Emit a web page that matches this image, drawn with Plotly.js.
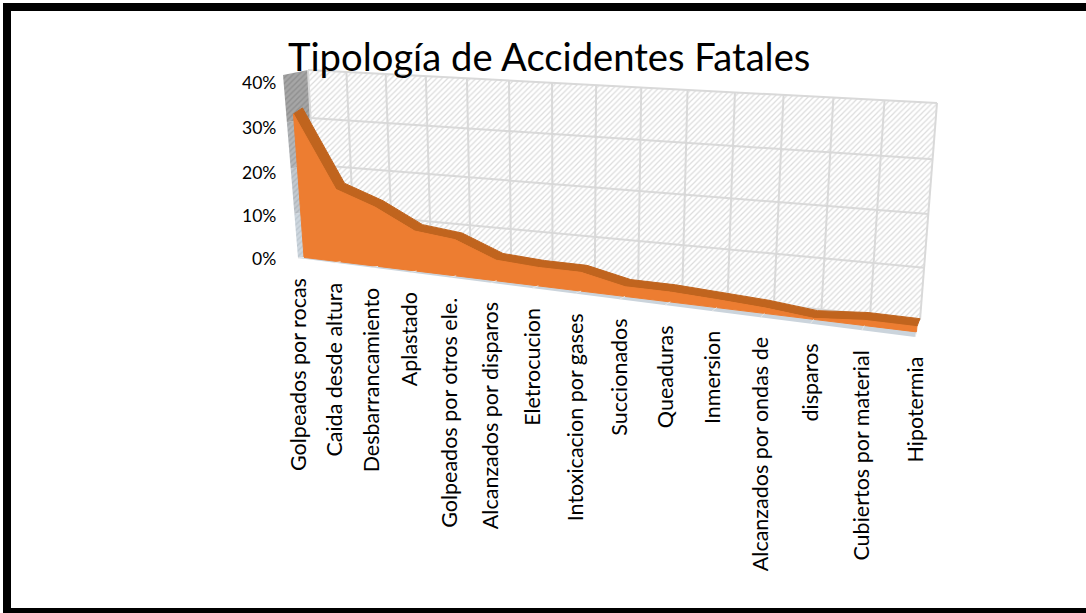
<!DOCTYPE html>
<html><head><meta charset="utf-8">
<script src="https://cdn.plot.ly/plotly-3.0.1.min.js"></script>
<style>html,body{margin:0;padding:0;background:#fff}#c{width:1086px;height:613px}</style></head>
<body><div id="c"></div>
<script>
const categories = ["Golpeados por rocas","Caida desde altura","Desbarrancamiento","Aplastado","Golpeados por otros ele.","Alcanzados por disparos","Eletrocucion","Intoxicacion por gases","Succionados","Queaduras","Inmersion","Alcanzados por ondas de","disparos","Cubiertos por material","Hipotermia"];
const values = [31.5,16,13,8.7,7.8,4.4,3.9,3.9,2,2,1.6,1.1,0.2,1,1];
const yTicks = [0,10,20,30,40];
const yTickLabels = ["0%","10%","20%","30%","40%"];
const titleText = "Tipología de Accidentes Fatales";

// Perspective of the 3-D box: corners of the front and back planes, [x,y] for (category 0/last, 0%/40%)
const FRONT = {bl:[298,258], br:[915,337], tl:[283,75], tr:[932,115]};
const BACK  = {bl:[318,256], br:[920,320], tl:[308,70], tr:[937,103]};
const AREA_D0 = 0.3;
// Screen offset of the ribbon's back edge from its front edge, at the first and last category
const RIBBON = {first:[9,-6], last:[3,-8]};

function homography(q){ // unit square -> quad (u right, v up)
  const [x0,y0]=q.bl,[x1,y1]=q.br,[x2,y2]=q.tr,[x3,y3]=q.tl;
  const dx1=x1-x2,dx2=x3-x2,dx3=x0-x1+x2-x3,dy1=y1-y2,dy2=y3-y2,dy3=y0-y1+y2-y3;
  const det=dx1*dy2-dx2*dy1;
  const g=(dx3*dy2-dx2*dy3)/det,h=(dx1*dy3-dx3*dy1)/det;
  const a=x1-x0+g*x1,b=x3-x0+h*x3,d=y1-y0+g*y1,e=y3-y0+h*y3;
  return (u,v)=>{const w=g*u+h*v+1;return [(a*u+b*v+x0)/w,(d*u+e*v+y0)/w];};
}
const Hf=homography(FRONT),Hb=homography(BACK);
const n=categories.length;
function P(i,pct,depth){
  const u=i/(n-1),v=pct/40,f=Hf(u,v),b=Hb(u,v);
  return [f[0]+(b[0]-f[0])*depth,f[1]+(b[1]-f[1])*depth];
}
function poly(pts,style){
  return Object.assign({x:pts.map(p=>p[0]),y:pts.map(p=>p[1]),mode:'lines',hoverinfo:'skip',showlegend:false,line:{width:0}},style);
}
const traces=[];
// back wall
traces.push(poly([P(0,0,1),P(n-1,0,1),P(n-1,40,1),P(0,40,1),P(0,0,1)],{fill:'toself',fillcolor:'#ffffff',fillpattern:{shape:'/',fgcolor:'#dcdcdc',bgcolor:'#ffffff',size:4,solidity:0.3}}));
// side wall strips
const wallColors=['#cdd6de','#c3c9cf','#b4b7ba','#a6a6a6'];
const wallHatch=['#bcc6ce','#b0b6bc','#9fa2a5','#8f8f8f'];
for(let k=0;k<4;k++){
  const a=yTicks[k],b=yTicks[k+1];
  traces.push(poly([P(0,a,0),P(0,a,1),P(0,b,1),P(0,b,0),P(0,a,0)],{fill:'toself',fillcolor:wallColors[k],fillpattern:{shape:'/',fgcolor:wallHatch[k],bgcolor:wallColors[k],size:4,solidity:0.35}}));
}
// floor
traces.push(poly([P(0,0,0),P(n-1,0,0),P(n-1,0,AREA_D0+0.1),P(0,0,AREA_D0+0.1),P(0,0,0)],{fill:'toself',fillcolor:'#cbd4dc'}));
// gridlines
const gridLine={color:'#d9d9d9',width:2};
yTicks.forEach(t=>{traces.push(poly([P(0,t,1),P(n-1,t,1)],{line:gridLine}));});
categories.forEach((c,i)=>{traces.push(poly([P(i,0,1),P(i,40,1)],{line:gridLine}));});
// area: top band then front face
const bandFront=values.map((v,i)=>P(i,v,AREA_D0));
const bandBack=bandFront.map((p,i)=>{const u=i/(n-1);return [p[0]+RIBBON.first[0]+(RIBBON.last[0]-RIBBON.first[0])*u,p[1]+RIBBON.first[1]+(RIBBON.last[1]-RIBBON.first[1])*u];});
traces.push(poly(bandFront.concat(bandBack.slice().reverse(),[bandFront[0]]),{fill:'toself',fillcolor:'#c0641e',line:{color:'#c0641e',width:1}}));
traces.push(poly(bandFront.concat([P(n-1,0,AREA_D0),P(0,0,AREA_D0),bandFront[0]]),{fill:'toself',fillcolor:'#ed7d31',line:{color:'#ed7d31',width:1}}));
// floor ticks
categories.forEach((c,i)=>{traces.push(poly([P(i,0,0),P(i,0,AREA_D0)],{line:{color:'#e8e8e8',width:1}}));});

const catFont={family:'Lato, sans-serif',size:21.5,color:'#000'};
const valFont={family:'Lato, sans-serif',size:17.5,color:'#000'};
const annotations=[];
categories.forEach((c,i)=>{const p=P(i,0,0);annotations.push({x:p[0]-0.5,y:p[1]+18,xref:'x',yref:'y',text:c,textangle:-90,showarrow:false,xanchor:'center',yanchor:'top',font:catFont});});
yTicks.forEach((t,k)=>{const p=P(0,t,0);annotations.push({x:278,y:p[1]+t/40*7,xref:'x',yref:'y',text:yTickLabels[k],showarrow:false,xanchor:'right',yanchor:'middle',font:valFont});});

const layout={
  width:1086,height:613,margin:{l:0,r:0,t:0,b:0},paper_bgcolor:'#fff',plot_bgcolor:'#fff',showlegend:false,
  title:{text:titleText,x:288/1086,xanchor:'left',y:1-58/613,yanchor:'middle',yref:'paper',font:{family:'Lato, sans-serif',size:38.2,color:'#000'}},
  xaxis:{range:[0,1086],visible:false,fixedrange:true},
  yaxis:{range:[613,0],visible:false,fixedrange:true},
  annotations:annotations,
  shapes:[{type:'rect',xref:'x',yref:'y',x0:7,y0:7,x1:1090,y1:612,line:{color:'#000',width:8},fillcolor:'rgba(0,0,0,0)',layer:'below'}]
};
Plotly.newPlot('c',traces,layout,{displayModeBar:false,staticPlot:true});
</script></body></html>
